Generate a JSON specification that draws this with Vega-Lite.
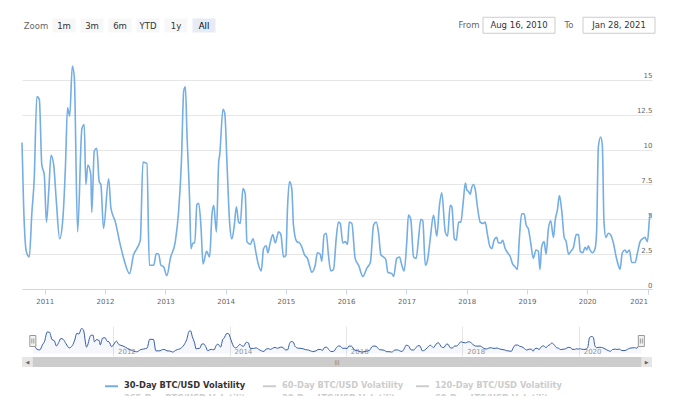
{
  "$schema": "https://vega.github.io/schema/vega-lite/v6.json",
  "padding": {"left": 18, "top": 16, "right": 10, "bottom": 0},
  "background": "white",
  "config": {"view": {"stroke": null}, "font": "DejaVu Sans"},
  "datasets": {
    "btc": [
      {"date":"2010-08-16","vol":10.5},{"date":"2010-08-25","vol":6.3},{"date":"2010-09-11","vol":2.7},{"date":"2010-09-29","vol":2.3},
      {"date":"2010-10-15","vol":5.5},{"date":"2010-10-29","vol":7.9},{"date":"2010-11-14","vol":13.8},{"date":"2010-11-29","vol":13.6},
      {"date":"2010-12-14","vol":8.9},{"date":"2010-12-29","vol":8.2},{"date":"2011-01-11","vol":4.8},{"date":"2011-01-25","vol":7.0},
      {"date":"2011-02-08","vol":9.6},{"date":"2011-02-24","vol":8.9},{"date":"2011-03-12","vol":6.3},{"date":"2011-04-01","vol":3.6},
      {"date":"2011-04-21","vol":5.1},{"date":"2011-05-06","vol":8.7},{"date":"2011-05-19","vol":13.0},{"date":"2011-06-01","vol":12.4},
      {"date":"2011-06-17","vol":16.0},{"date":"2011-06-29","vol":15.2},{"date":"2011-07-19","vol":4.1},{"date":"2011-08-14","vol":11.5},
      {"date":"2011-08-28","vol":11.8},{"date":"2011-09-07","vol":7.5},{"date":"2011-09-19","vol":8.9},{"date":"2011-10-07","vol":8.2},
      {"date":"2011-10-13","vol":5.5},{"date":"2011-10-28","vol":9.9},{"date":"2011-11-12","vol":10.1},{"date":"2011-11-27","vol":7.7},
      {"date":"2011-12-07","vol":7.5},{"date":"2011-12-23","vol":4.35},{"date":"2012-01-23","vol":7.9},{"date":"2012-02-06","vol":5.8},
      {"date":"2012-03-04","vol":4.8},{"date":"2012-04-03","vol":3.15},{"date":"2012-04-23","vol":2.2},{"date":"2012-05-29","vol":1.1},
      {"date":"2012-06-22","vol":2.45},{"date":"2012-07-12","vol":2.9},{"date":"2012-08-02","vol":3.5},{"date":"2012-08-18","vol":9.1},
      {"date":"2012-09-11","vol":9.0},{"date":"2012-09-26","vol":1.7},{"date":"2012-10-22","vol":1.7},{"date":"2012-11-07","vol":2.55},
      {"date":"2012-11-21","vol":2.5},{"date":"2012-12-05","vol":1.7},{"date":"2012-12-21","vol":1.6},{"date":"2013-01-10","vol":0.95},
      {"date":"2013-01-31","vol":2.2},{"date":"2013-03-02","vol":3.4},{"date":"2013-03-22","vol":5.55},{"date":"2013-04-08","vol":9.1},
      {"date":"2013-04-22","vol":14.2},{"date":"2013-05-02","vol":14.5},{"date":"2013-05-12","vol":11.05},{"date":"2013-05-28","vol":6.3},
      {"date":"2013-06-05","vol":2.9},{"date":"2013-06-17","vol":3.3},{"date":"2013-06-28","vol":3.3},{"date":"2013-07-11","vol":6.05},
      {"date":"2013-07-22","vol":6.15},{"date":"2013-08-05","vol":4.4},{"date":"2013-08-17","vol":1.8},{"date":"2013-09-08","vol":2.7},
      {"date":"2013-09-26","vol":2.3},{"date":"2013-10-10","vol":5.3},{"date":"2013-10-21","vol":6.0},{"date":"2013-11-06","vol":4.1},
      {"date":"2013-11-20","vol":9.1},{"date":"2013-11-26","vol":9.6},{"date":"2013-12-16","vol":12.9},{"date":"2013-12-27","vol":12.6},
      {"date":"2014-01-09","vol":9.1},{"date":"2014-01-25","vol":4.8},{"date":"2014-02-08","vol":3.6},{"date":"2014-02-23","vol":4.6},
      {"date":"2014-03-07","vol":5.9},{"date":"2014-03-21","vol":4.8},{"date":"2014-03-31","vol":4.7},{"date":"2014-04-16","vol":7.2},
      {"date":"2014-04-30","vol":6.8},{"date":"2014-05-10","vol":3.4},{"date":"2014-05-31","vol":3.2},{"date":"2014-06-16","vol":3.6},
      {"date":"2014-07-06","vol":2.45},{"date":"2014-07-20","vol":1.7},{"date":"2014-08-05","vol":1.3},{"date":"2014-08-19","vol":2.9},
      {"date":"2014-09-04","vol":3.1},{"date":"2014-09-14","vol":2.6},{"date":"2014-09-28","vol":3.3},{"date":"2014-10-14","vol":3.9},
      {"date":"2014-10-29","vol":3.3},{"date":"2014-11-18","vol":4.1},{"date":"2014-12-02","vol":3.9},{"date":"2014-12-18","vol":2.3},
      {"date":"2015-01-01","vol":2.4},{"date":"2015-01-11","vol":5.8},{"date":"2015-01-23","vol":7.7},{"date":"2015-02-06","vol":7.2},
      {"date":"2015-02-16","vol":4.6},{"date":"2015-03-08","vol":3.4},{"date":"2015-03-25","vol":3.3},{"date":"2015-04-08","vol":3.0},
      {"date":"2015-04-24","vol":2.45},{"date":"2015-05-12","vol":2.2},{"date":"2015-05-24","vol":1.7},{"date":"2015-06-07","vol":1.2},
      {"date":"2015-06-28","vol":1.7},{"date":"2015-07-11","vol":2.6},{"date":"2015-07-28","vol":2.5},{"date":"2015-08-07","vol":2.0},
      {"date":"2015-08-21","vol":3.9},{"date":"2015-09-03","vol":4.0},{"date":"2015-09-16","vol":2.45},{"date":"2015-09-30","vol":1.3},
      {"date":"2015-10-17","vol":1.4},{"date":"2015-11-02","vol":3.6},{"date":"2015-11-16","vol":4.8},{"date":"2015-11-27","vol":4.7},
      {"date":"2015-12-12","vol":3.3},{"date":"2015-12-27","vol":3.4},{"date":"2016-01-10","vol":3.2},{"date":"2016-01-20","vol":4.8},
      {"date":"2016-02-05","vol":4.7},{"date":"2016-02-25","vol":2.2},{"date":"2016-03-17","vol":1.7},{"date":"2016-04-12","vol":0.9},
      {"date":"2016-05-06","vol":1.5},{"date":"2016-05-27","vol":1.9},{"date":"2016-06-16","vol":4.6},{"date":"2016-07-02","vol":4.8},
      {"date":"2016-07-16","vol":4.0},{"date":"2016-07-30","vol":2.45},{"date":"2016-08-15","vol":2.3},{"date":"2016-08-29","vol":2.1},
      {"date":"2016-09-10","vol":1.2},{"date":"2016-10-04","vol":1.1},{"date":"2016-10-15","vol":0.9},{"date":"2016-11-03","vol":2.2},
      {"date":"2016-11-20","vol":2.3},{"date":"2016-12-04","vol":1.7},{"date":"2016-12-18","vol":1.3},{"date":"2017-01-03","vol":3.4},
      {"date":"2017-01-13","vol":5.3},{"date":"2017-01-27","vol":5.0},{"date":"2017-02-13","vol":2.3},{"date":"2017-03-01","vol":2.2},
      {"date":"2017-03-15","vol":3.6},{"date":"2017-03-29","vol":5.0},{"date":"2017-04-10","vol":4.9},{"date":"2017-04-25","vol":1.7},
      {"date":"2017-05-09","vol":2.1},{"date":"2017-05-25","vol":3.6},{"date":"2017-06-14","vol":5.3},{"date":"2017-07-04","vol":3.8},
      {"date":"2017-07-20","vol":6.0},{"date":"2017-08-03","vol":6.9},{"date":"2017-08-24","vol":4.1},{"date":"2017-09-07","vol":3.8},
      {"date":"2017-09-23","vol":6.0},{"date":"2017-10-03","vol":5.9},{"date":"2017-10-18","vol":3.6},{"date":"2017-10-30","vol":3.5},
      {"date":"2017-11-13","vol":4.8},{"date":"2017-11-27","vol":4.8},{"date":"2017-12-09","vol":6.0},{"date":"2017-12-24","vol":7.6},
      {"date":"2018-01-02","vol":7.1},{"date":"2018-01-12","vol":7.0},{"date":"2018-01-22","vol":6.8},{"date":"2018-02-01","vol":7.3},
      {"date":"2018-02-11","vol":7.5},{"date":"2018-02-21","vol":7.2},{"date":"2018-03-07","vol":5.9},{"date":"2018-03-24","vol":4.8},
      {"date":"2018-04-09","vol":4.7},{"date":"2018-04-23","vol":4.8},{"date":"2018-05-07","vol":3.9},{"date":"2018-05-23","vol":3.0},
      {"date":"2018-06-02","vol":2.9},{"date":"2018-06-16","vol":3.5},{"date":"2018-07-02","vol":3.7},{"date":"2018-07-12","vol":3.3},
      {"date":"2018-07-26","vol":3.3},{"date":"2018-08-07","vol":3.5},{"date":"2018-08-22","vol":2.9},{"date":"2018-09-06","vol":2.6},
      {"date":"2018-09-21","vol":2.35},{"date":"2018-10-06","vol":1.8},{"date":"2018-10-21","vol":1.6},{"date":"2018-11-04","vol":1.4},
      {"date":"2018-11-16","vol":3.6},{"date":"2018-11-30","vol":5.4},{"date":"2018-12-15","vol":5.4},{"date":"2018-12-27","vol":4.6},
      {"date":"2019-01-10","vol":4.3},{"date":"2019-01-24","vol":3.3},{"date":"2019-02-09","vol":2.2},{"date":"2019-02-25","vol":2.8},
      {"date":"2019-03-11","vol":2.7},{"date":"2019-03-21","vol":1.4},{"date":"2019-03-31","vol":3.0},{"date":"2019-04-15","vol":3.4},
      {"date":"2019-04-27","vol":2.5},{"date":"2019-05-11","vol":4.3},{"date":"2019-05-25","vol":4.9},{"date":"2019-06-11","vol":3.7},
      {"date":"2019-06-21","vol":4.9},{"date":"2019-07-05","vol":5.7},{"date":"2019-07-17","vol":6.7},{"date":"2019-07-31","vol":5.6},
      {"date":"2019-08-15","vol":3.7},{"date":"2019-08-27","vol":3.4},{"date":"2019-09-10","vol":2.5},{"date":"2019-09-24","vol":2.7},
      {"date":"2019-10-10","vol":3.0},{"date":"2019-10-27","vol":3.9},{"date":"2019-11-10","vol":3.9},{"date":"2019-11-20","vol":2.7},
      {"date":"2019-12-05","vol":2.6},{"date":"2019-12-20","vol":3.0},{"date":"2019-12-30","vol":2.8},{"date":"2020-01-08","vol":3.1},
      {"date":"2020-01-18","vol":2.8},{"date":"2020-02-03","vol":2.6},{"date":"2020-02-18","vol":2.9},{"date":"2020-02-27","vol":4.0},
      {"date":"2020-03-09","vol":10.2},{"date":"2020-03-23","vol":10.9},{"date":"2020-04-02","vol":10.3},{"date":"2020-04-12","vol":4.8},
      {"date":"2020-04-24","vol":3.7},{"date":"2020-05-08","vol":4.0},{"date":"2020-05-22","vol":3.9},{"date":"2020-06-08","vol":3.3},
      {"date":"2020-06-24","vol":2.35},{"date":"2020-07-08","vol":1.7},{"date":"2020-07-18","vol":1.4},{"date":"2020-08-01","vol":2.6},
      {"date":"2020-08-18","vol":2.8},{"date":"2020-08-28","vol":2.6},{"date":"2020-09-13","vol":2.8},{"date":"2020-09-27","vol":1.9},
      {"date":"2020-10-18","vol":1.9},{"date":"2020-11-01","vol":2.6},{"date":"2020-11-17","vol":3.4},{"date":"2020-12-01","vol":3.6},
      {"date":"2020-12-17","vol":3.7},{"date":"2020-12-31","vol":3.4},{"date":"2021-01-16","vol":5.3},{"date":"2021-01-28","vol":5.4}
    ],
    "zoom": [
      {"label":"Zoom","role":"caption"},{"label":"1m","role":"button"},{"label":"3m","role":"button"},{"label":"6m","role":"button"},
      {"label":"YTD","role":"button"},{"label":"1y","role":"button"},{"label":"All","role":"selected"}
    ],
    "range": [
      {"label":"From","role":"caption"},{"label":"Aug 16, 2010","role":"input"},{"label":"To","role":"caption"},{"label":"Jan 28, 2021","role":"input"}
    ],
    "selection": [{"date":"2010-08-16"},{"date":"2021-01-28"}]
  },
  "spacing": 25,
  "vconcat": [
    {
      "spacing": 226,
      "center": true,
      "hconcat": [
        {
          "width": 196, "height": 14,
          "data": {"name": "zoom"},
          "encoding": {"x": {"field": "label", "type": "nominal", "axis": null,
            "scale": {"domain": ["Zoom", "1m", "3m", "6m", "YTD", "1y", "All"], "paddingInner": 0.1786, "paddingOuter": 0.0893}}},
          "layer": [
            {"transform": [{"filter": "datum.role != 'caption'"}], "mark": {"type": "rect"},
             "encoding": {"fill": {"condition": {"test": "datum.role == 'selected'", "value": "#e6ebf5"}, "value": "#f7f7f7"}}},
            {"mark": {"type": "text", "fontSize": 8.5, "baseline": "middle", "align": "center"},
             "encoding": {"text": {"field": "label"},
               "color": {"condition": [{"test": "datum.role == 'selected'", "value": "#000000"}, {"test": "datum.role == 'caption'", "value": "#666666"}], "value": "#333333"},
               "fontWeight": {"condition": {"test": "datum.role == 'selected'", "value": "bold"}, "value": "normal"}}}
          ]
        },
        {
          "width": 200, "height": 16,
          "data": {"name": "range"},
          "encoding": {"x": {"field": "label", "type": "nominal", "axis": null,
            "scale": {"domain": ["From", "Aug 16, 2010", "To", "Jan 28, 2021"], "paddingInner": 0, "paddingOuter": 0}}},
          "layer": [
            {"transform": [{"filter": "datum.role == 'input'"}], "mark": {"type": "rect", "width": 72, "fill": "#ffffff", "stroke": "#cccccc", "strokeWidth": 1}},
            {"mark": {"type": "text", "fontSize": 8.5, "baseline": "middle", "align": "center"},
             "encoding": {"text": {"field": "label"},
               "color": {"condition": {"test": "datum.role == 'caption'", "value": "#666666"}, "value": "#333333"}}}
          ]
        }
      ]
    },
    {
      "spacing": 21,
      "vconcat": [
        {
          "width": 630, "height": 230,
          "data": {"name": "btc"},
          "mark": {"type": "line", "interpolate": "monotone", "strokeWidth": 1.6},
          "encoding": {
            "x": {"field": "date", "type": "temporal",
              "scale": {"type": "utc", "domain": [{"year": 2010, "month": 8, "date": 16, "utc": true}, {"year": 2021, "month": 1, "date": 28, "utc": true}]},
              "axis": {"format": "%Y", "tickCount": {"interval": "year", "step": 1}, "grid": false, "domainColor": "#ccd6eb", "tickColor": "#ccd6eb",
                "tickSize": 5, "labelPadding": 3.5, "labelFontSize": 7, "labelColor": "#666666", "labelFlush": 8, "labelOverlap": false, "title": null}},
            "y": {"field": "vol", "type": "quantitative",
              "scale": {"domain": [0, 16.5], "nice": false},
              "axis": {"orient": "right", "values": [0, 2.5, 5, 7.5, 10, 12.5, 15], "format": ".3~g", "grid": true, "gridColor": "#e6e6e6", "domain": false, "ticks": false,
                "labelAlign": "right", "labelBaseline": "alphabetic", "labelPadding": 0, "labelOffset": -2, "labelFontSize": 7, "labelColor": "#666666",
                "title": null, "minExtent": 0}},
            "color": {"datum": "30-Day BTC/USD Volatility", "type": "nominal",
              "scale": {"domain": ["30-Day BTC/USD Volatility", "60-Day BTC/USD Volatility", "120-Day BTC/USD Volatility", "365-Day BTC/USD Volatility", "30-Day LTC/USD Volatility", "60-Day LTC/USD Volatility"],
                "range": ["#74aee4", "#cccccc", "#cccccc", "#cccccc", "#cccccc", "#cccccc"]},
              "legend": {"orient": "none", "legendX": 82, "legendY": 361.5, "title": null, "columns": 3, "direction": "horizontal",
                "symbolType": "stroke", "symbolSize": 169, "symbolStrokeWidth": 2, "labelFont": "DejaVu Sans", "labelFontSize": 8.3,
                "labelFontWeight": "bold", "labelOffset": 5, "columnPadding": 8, "rowPadding": 1, "padding": 0, "labelLimit": 300,
                "encode": {"labels": {"update": {"fill": {"signal": "datum.label == '30-Day BTC/USD Volatility' ? '#333333' : '#cccccc'"}}}}}}
          }
        },
        {
          "spacing": 1,
          "vconcat": [
            {
              "width": 630, "height": 30,
              "data": {"name": "btc"},
              "encoding": {"x": {"field": "date", "type": "temporal",
                "scale": {"type": "utc", "domain": [{"year": 2010, "month": 6, "date": 9, "utc": true}, {"year": 2021, "month": 4, "date": 5, "utc": true}]},
                "axis": {"format": "%Y", "tickCount": {"interval": "year", "step": 2}, "grid": true, "gridColor": "#e6e6e6", "domain": false, "ticks": false, "tickSize": 0,
                  "labelAlign": "left", "labelBaseline": "alphabetic", "labelPadding": -3, "labelOffset": 4.5, "labelFontSize": 7, "labelColor": "#999999", "labelFlush": false, "title": null}}},
              "layer": [
                {"mark": {"type": "area", "color": "#335cad", "opacity": 0.05, "interpolate": "monotone"},
                 "encoding": {"y": {"field": "vol", "type": "quantitative", "scale": {"domain": [-1.6, 17.6], "nice": false, "zero": false}, "axis": null}}},
                {"mark": {"type": "line", "color": "#335cad", "strokeWidth": 1, "interpolate": "monotone"},
                 "encoding": {"y": {"field": "vol", "type": "quantitative", "axis": null}}},
                {"data": {"values": [{}]}, "mark": {"type": "rect", "color": "#6685c2", "opacity": 0.3},
                 "encoding": {"x": {"datum": {"year": 2010, "month": 8, "date": 16, "utc": true}, "type": "temporal"},
                   "x2": {"datum": {"year": 2021, "month": 1, "date": 28, "utc": true}}}},
                {"data": {"name": "selection"},
                 "mark": {"type": "point", "shape": "M-0.55,-1H0.55V1H-0.55Z M-0.18,-0.45V0.45 M0.18,-0.45V0.45", "size": 121, "fill": "#f2f2f2", "stroke": "#999999", "strokeWidth": 1, "opacity": 1, "fillOpacity": 1, "strokeOpacity": 1},
                 "encoding": {"x": {"field": "date", "type": "temporal"}, "y": {"datum": 8, "type": "quantitative"}}}
              ]
            },
            {
              "width": 630, "height": 10,
              "data": {"values": [{}]},
              "layer": [
                {"mark": {"type": "rect", "color": "#e6e6e6"},
                 "encoding": {"x": {"datum": {"year": 2010, "month": 6, "date": 9, "utc": true}, "type": "temporal",
                     "scale": {"type": "utc", "domain": [{"year": 2010, "month": 6, "date": 9, "utc": true}, {"year": 2021, "month": 4, "date": 5, "utc": true}]}, "axis": null},
                   "x2": {"datum": {"year": 2021, "month": 4, "date": 5, "utc": true}}}},
                {"mark": {"type": "rect", "color": "#cccccc"},
                 "encoding": {"x": {"datum": {"year": 2010, "month": 8, "date": 16, "utc": true}, "type": "temporal"},
                   "x2": {"datum": {"year": 2021, "month": 1, "date": 28, "utc": true}}}},
                {"mark": {"type": "text", "text": "◀", "fontSize": 5, "color": "#666666", "baseline": "middle"},
                 "encoding": {"x": {"datum": {"year": 2010, "month": 7, "date": 13, "utc": true}, "type": "temporal"}}},
                {"mark": {"type": "text", "text": "▶", "fontSize": 5, "color": "#666666", "baseline": "middle"},
                 "encoding": {"x": {"datum": {"year": 2021, "month": 3, "date": 2, "utc": true}, "type": "temporal"}}},
                {"mark": {"type": "text", "text": "|||", "fontSize": 5, "color": "#666666", "baseline": "middle"},
                 "encoding": {"x": {"datum": {"year": 2015, "month": 11, "date": 6, "utc": true}, "type": "temporal"}}}
              ]
            }
          ]
        }
      ]
    }
  ]
}
